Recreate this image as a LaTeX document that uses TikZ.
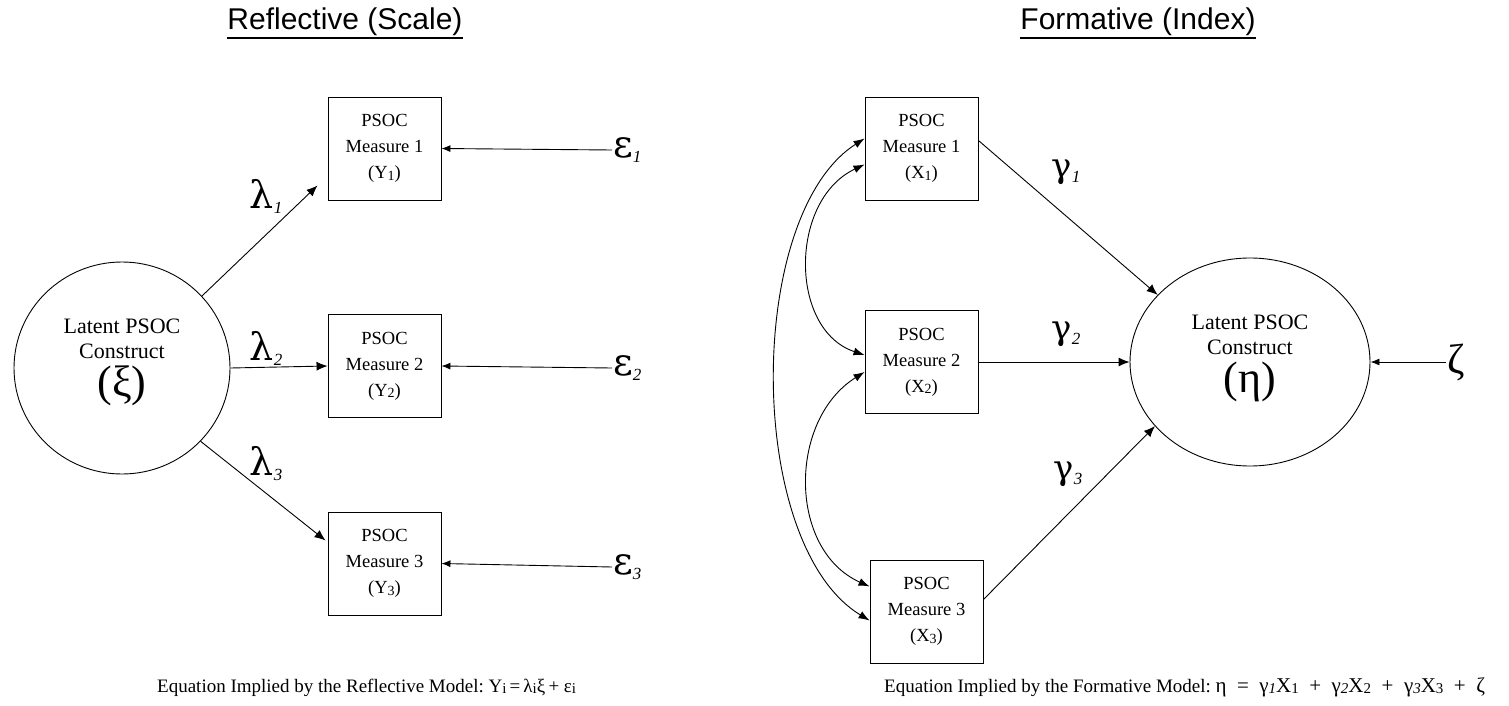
\documentclass[tikz,border=0pt]{standalone}
\usepackage{fontspec}
\setmainfont{Liberation Serif}
\setsansfont{Liberation Sans}
\newfontfamily\gk{DejaVu Serif}
\usetikzlibrary{arrows.meta,calc,shapes.geometric}
\newcommand\lsub[1]{\raisebox{-1.5pt}{\fontsize{14}{14}\selectfont #1}}
\newcommand\isub[1]{\raisebox{-5pt}{\fontsize{17}{17}\selectfont\rmfamily\itshape #1}}
\newcommand\esub[1]{\raisebox{-1pt}{\fontsize{15}{15}\selectfont #1}}
\newcommand\eisub[1]{\raisebox{-1pt}{\fontsize{15}{15}\selectfont\itshape #1}}
\begin{document}
\begin{tikzpicture}[x=1pt,y=-1pt,
  box/.style={draw,line width=0.9pt,minimum width=113pt,minimum height=103pt,inner sep=0pt,align=center,font=\fontsize{18.5}{26}\selectfont},
  latent/.style={draw,ellipse,line width=0.9pt,inner sep=0pt,align=center,font=\fontsize{22}{25}\selectfont},
  arr/.style={line width=0.9pt,-{Latex[length=11pt,width=9pt]}},
  harr/.style={line width=0.9pt,-{Latex[length=9pt,width=7pt]}},
  darr/.style={line width=0.9pt,{Latex[length=11pt,width=8pt]}-{Latex[length=11pt,width=8pt]}},
  title/.style={font=\sffamily\fontsize{30}{32}\selectfont,inner sep=0pt},
  uline/.style={line width=2.2pt},
  glbl/.style={font=\gk\fontsize{38}{38}\selectfont,inner sep=1pt},
  gam/.style={font=\gk\fontsize{34}{34}\selectfont,inner sep=1pt},
  eq/.style={font=\fontsize{19}{21}\selectfont,anchor=base west,inner sep=0pt}
]
\useasboundingbox (0,0) rectangle (1509,706);

% titles
\node[title] (t1) at (345,22) {Reflective (Scale)};
\node[title] (t2) at (1138,22) {Formative (Index)};
\draw[uline] ($(t1.south west)+(0,2)$) -- ($(t1.south east)+(0,2)$);
\draw[uline] ($(t2.south west)+(0,2)$) -- ($(t2.south east)+(0,2)$);

% ---------- reflective ----------
\node[latent,minimum width=216pt,minimum height=212pt] (xi) at (122,368)
  {Latent PSOC\\Construct\\[6pt]{\fontsize{44}{44}\selectfont(ξ)\rule[-20pt]{0pt}{20pt}}};
\node[box] (y1) at (384.5,148.5) {PSOC\\Measure 1\\(Y\lsub{1})};
\node[box] (y2) at (384.5,366) {PSOC\\Measure 2\\(Y\lsub{2})};
\node[box] (y3) at (384.5,563.5) {PSOC\\Measure 3\\(Y\lsub{3})};

\node[glbl,anchor=west] (e1) at (612,150) {ε\isub{1}};
\node[glbl,anchor=west] (e2) at (612,368) {ε\isub{2}};
\node[glbl,anchor=west] (e3) at (612,567) {ε\isub{3}};

\draw[arr] (xi.42) -- ($(y1.south west)+(-10,-15)$);
\draw[arr] (xi.east) -- (y2.west);
\draw[arr] (xi.-43) -- ($(y3.west)+(-2,-23)$);
\draw[harr] (e1.west) -- (y1.east);
\draw[harr] (e2.west) -- (y2.east);
\draw[harr] (e3.west) -- (y3.east);

\node[glbl] (l1) at (266,196) {λ\isub{1}};
\node[glbl] (l2) at (266,348) {λ\isub{2}};
\node[glbl] (l3) at (266,464) {λ\isub{3}};

% ---------- formative ----------
\node[box] (x1) at (921.5,148.5) {PSOC\\Measure 1\\(X\lsub{1})};
\node[box] (x2) at (921.5,362) {PSOC\\Measure 2\\(X\lsub{2})};
\node[box] (x3) at (926.5,611.5) {PSOC\\Measure 3\\(X\lsub{3})};
\node[latent,minimum width=240pt,minimum height=208pt] (eta) at (1250,362)
  {Latent PSOC\\Construct\\[6pt]{\fontsize{44}{44}\selectfont(η)\rule[-16pt]{0pt}{16pt}}};
\node[font=\fontsize{42}{42}\selectfont,anchor=west,inner sep=1pt] (z) at (1446,362) {ζ};

\draw[arr] ($(x1.east)+(0,-8)$) -- (eta.144);
\draw[arr] (x2.east) -- (eta.west);
\draw[arr] ($(x3.east)+(0,-12)$) -- (eta.214);
\draw[harr] (z.west) -- (eta.east);

\node[gam] (g1) at (1066,172) {γ\isub{1}};
\node[gam] (g2) at (1066,334) {γ\isub{2}};
\node[gam] (g3) at (1068,474) {γ\isub{3}};

\draw[darr] ($(x1.west)+(0,-10)$) .. controls (745,215) and (745,545) .. ($(x3.west)+(0,9)$);
\draw[darr] ($(x1.west)+(0,16)$) .. controls (789,200) and (789,330) .. ($(x2.west)+(0,-7)$);
\draw[darr] ($(x2.west)+(0,10)$) .. controls (788,420) and (788,550) .. ($(x3.west)+(0,-25)$);

% ---------- equations ----------
\node[eq] (eqL) at (157,692) {Equation Implied by the Reflective Model:\ Y\esub{i}\,=\,λ\esub{i}ξ\,+\ ε\esub{i}};
\node[eq] (eqR) at (884,692) {Equation Implied by the Formative Model:\ {\fontsize{21}{21}\selectfont η\enspace=\enspace γ\eisub{1}X\esub{1}\enspace+\enspace γ\eisub{2}X\esub{2}\enspace+\enspace γ\eisub{3}X\esub{3}\enspace+\enspace ζ}};
\end{tikzpicture}
\end{document}
